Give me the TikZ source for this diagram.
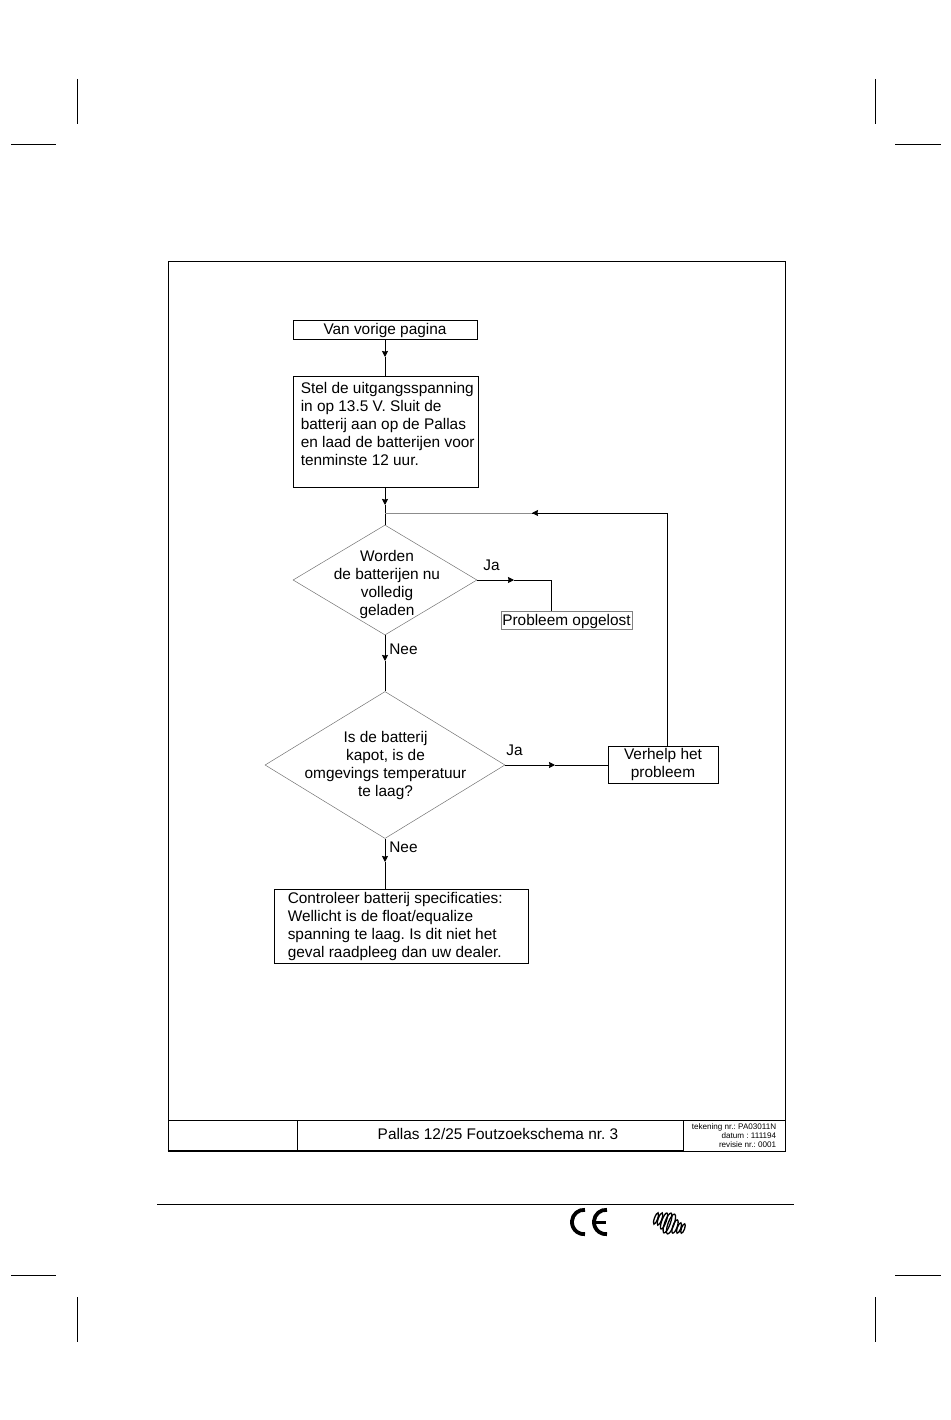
\documentclass[tikz,border=0pt]{standalone}
\usepackage{fontspec}
\setmainfont{Liberation Sans}
\usetikzlibrary{shapes.geometric, arrows.meta}
\tikzstyle{box} = [rectangle, draw=black, line width=0.9pt, inner sep=0pt, font=\fontsize{15.4}{18}\selectfont]
\tikzstyle{decision} = [diamond, draw=black!55, line width=0.5pt, inner sep=0pt, aspect=1]
\tikzstyle{plain} = [inner sep=0pt, font=\fontsize{15.4}{18}\selectfont, align=center]
\tikzstyle{leftplain} = [plain, align=left, anchor=west]
\tikzstyle{line} = [line width=0.9pt]
\tikzstyle{arrow} = [line width=0.9pt,-{Stealth[length=6pt,width=6pt,inset=0.6pt]}]
\tikzstyle{thinline} = [line width=0.5pt, draw=black!45]
\tikzstyle{crop} = [line width=0.8pt]

\begin{document}
\frenchspacing
\begin{tikzpicture}[x=1pt,y=1pt,node distance=100pt]
\useasboundingbox (0,0) rectangle (950,-1420);

%% frame and title block
\node (frame) [rectangle, draw=black, line width=0.9pt, minimum width=617pt, minimum height=890pt, inner sep=0pt] at (476.5,-706) {};
\node (cellleft) [box, minimum width=129pt, minimum height=31pt] at (232.5,-1135.5) {};
\node (celltitle) [box, minimum width=386pt, minimum height=31pt, right of=cellleft, xshift=157.5pt, text height=10pt, text depth=3pt] {\hspace*{16pt}Pallas 12/25 Foutzoekschema nr. 3};
\node (cellinfo) [box, minimum width=102pt, minimum height=31pt, align=right, font=\fontsize{8.1}{8.6}\selectfont, right of=celltitle, xshift=144pt] {tekening nr.: PA03011N\\datum : 111194\\revisie nr.: 0001};
\draw [line width=2pt] (frame.south west) -- (cellinfo.south west);

%% flow chart
\node (van) [box, minimum width=184pt, minimum height=19pt, text height=12.5pt, text depth=2.5pt] at (385,-329.5) {Van vorige pagina};
\node (stel) [box, minimum width=185pt, minimum height=111pt, below of=van, yshift=-2pt, xshift=0.5pt] {};
\node (steltext) [leftplain, xshift=8pt, yshift=7.5pt] at (stel.west) {Stel de uitgangsspanning\\in op 13.5 V. Sluit de\\batterij aan op de Pallas\\en laad de batterijen voor\\tenminste 12 uur.};
\node (dia1) [decision, minimum width=184pt, minimum height=110pt, below of=stel, yshift=-48.5pt, xshift=-0.5pt] {};
\node (dia1text) [plain, xshift=2pt, yshift=-4.5pt] at (dia1) {Worden\\de batterijen nu\\volledig\\geladen};
\node (dia2) [decision, minimum width=240pt, minimum height=147pt, below of=dia1, yshift=-85pt] {};
\node (dia2text) [plain, xshift=0.5pt, yshift=-0.5pt] at (dia2) {Is de batterij\\kapot, is de\\omgevings temperatuur\\te laag?};
\node (ctrl) [box, minimum width=254pt, minimum height=74pt, below of=dia2, yshift=-61pt, xshift=16pt] {};
\node (ctrltext) [leftplain, xshift=14pt, yshift=-0.5pt] at (ctrl.west) {Controleer batterij specificaties:\\Wellicht is de float/equalize\\spanning te laag. Is dit niet het\\geval raadpleeg dan uw dealer.};
\node (opgelost) [plain, draw=black!50, line width=0.5pt, minimum width=131pt, minimum height=18pt, text height=14pt, text depth=2.5pt, right of=dia1, xshift=81.5pt, yshift=-40pt] {Probleem opgelost};
\node (verhelp) [box, minimum width=110pt, minimum height=37pt, align=center, right of=dia2, xshift=178pt] {Verhelp het\\probleem};

%% labels
\node (ja1) [plain] at (491.5,-565) {Ja};
\node (nee1) [plain] at (403.5,-649) {Nee};
\node (ja2) [plain] at (514.5,-750) {Ja};
\node (nee2) [plain] at (403.5,-847) {Nee};

%% de pijlen
\coordinate (tipa) at (385,-357);
\coordinate (tipb) at (385,-505);
\coordinate (join) at (385,-513);
\coordinate (tipc) at (532,-513);
\coordinate (corner) at (667,-513);
\coordinate (tipd) at (514,-580);
\coordinate (bend) at (551,-580);
\coordinate (tipe) at (385,-661);
\coordinate (tipf) at (555,-765);
\coordinate (tipg) at (385,-862);

\draw [arrow] (van) -- (tipa);
\draw [line] (tipa) -- (van |- stel.north);
\draw [arrow] (van |- stel.south) -- (tipb);
\draw [line] (tipb) -- (dia1.north);
\draw [thinline] (join) -- (tipc);
\draw [line] (corner |- verhelp.north) -- (corner) -- (tipc);
\draw [arrow] (corner) -- (tipc);
\draw [arrow] (dia1.east) -- (tipd);
\draw [line] (tipd) -- (bend) -- (bend |- opgelost.north);
\draw [arrow] (dia1.south) -- (tipe);
\draw [line] (tipe) -- (dia2.north);
\draw [arrow] (dia2.east) -- (tipf);
\draw [line] (tipf) -- (verhelp.west);
\draw [arrow] (dia2.south) -- (tipg);
\draw [line] (tipg) -- (dia2 |- ctrl.north);

%% page marks
\foreach \xa in {77,875} {
  \draw [crop] (\xa,-79) -- (\xa,-124);
  \draw [crop] (\xa,-1297) -- (\xa,-1342);
}
\foreach \xb/\xc in {11/56,895/941} {
  \draw [crop] (\xb,-144) -- (\xc,-144);
  \draw [crop] (\xb,-1275) -- (\xc,-1275);
}
\draw [line width=1pt] (157,-1204) -- (794,-1204);

%% CE mark
\draw [line width=3.8pt] (585,-1209.85) arc[start angle=85, end angle=275, x radius=12, y radius=12.2];
\draw [line width=3.8pt] (607,-1209.85) arc[start angle=85, end angle=275, x radius=12, y radius=12.2];
\draw [line width=3pt] (595,-1222) -- (606,-1222);

%% logo
\foreach \xd/\yd/\rx/\ry in {656/-1218.5/1.6/6, 660/-1219/1.8/6.5, 664/-1221/2.2/8.5, 667.5/-1223/2.8/10.5, 671/-1224/3/10.5, 675/-1226.5/2.2/7, 679/-1228/1.8/5.5, 683/-1228.5/1.6/5} {
  \draw [line width=1.3pt, rotate around={-20:(\xd,\yd)}] (\xd,\yd) ellipse [x radius=\rx, y radius=\ry];
}
\end{tikzpicture}
\end{document}
